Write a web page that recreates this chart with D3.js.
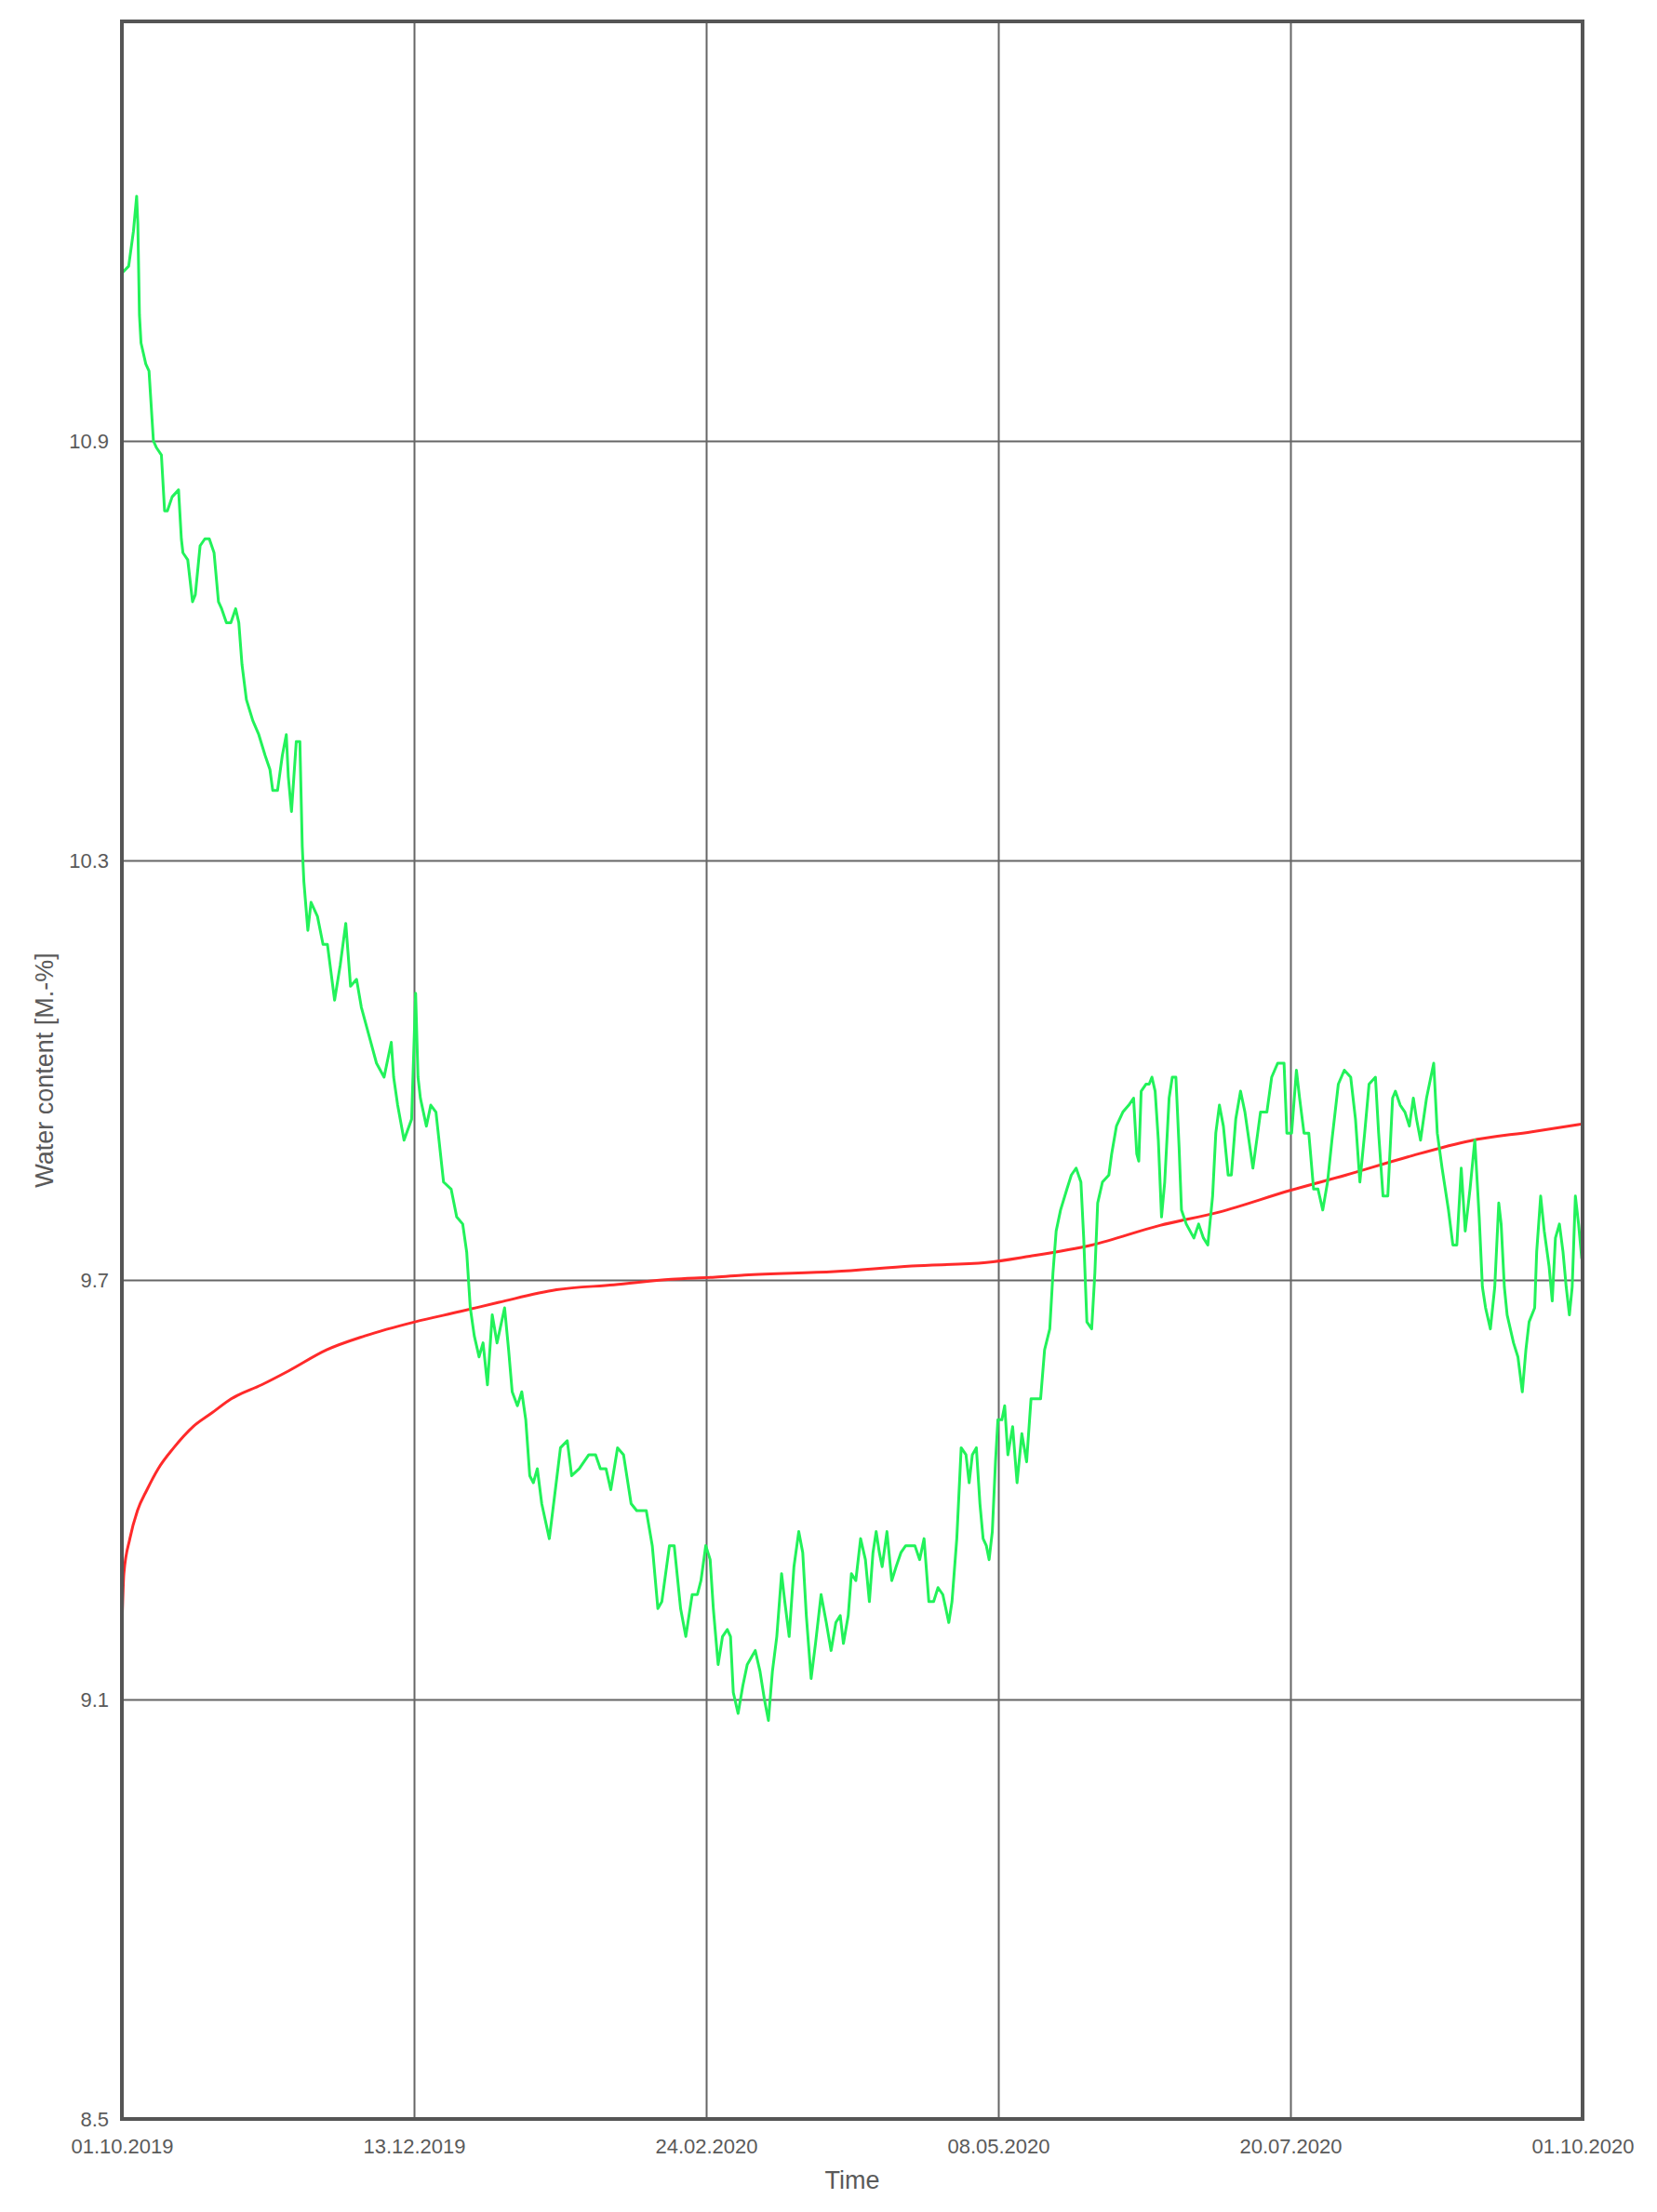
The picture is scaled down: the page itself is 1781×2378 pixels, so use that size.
<!DOCTYPE html>
<html>
<head>
<meta charset="utf-8">
<script src="https://cdn.jsdelivr.net/npm/d3@7"></script>
<style>
  body { margin: 0; background: #fff; }
  svg { display: block; }
</style>
</head>
<body>
<div id="chart"></div>
<script>
// days after 01.10.2019 (UTC) and water content [M.-%]
var greenDays = [0, 1.7, 2.9, 3.7, 4.0, 4.4, 4.8, 6.0, 6.8, 7.9, 8.7, 9.9, 10.7, 11.4, 12.6, 14.2, 14.9, 15.3, 16.5, 17.7,
  18.4, 19.6, 20.8, 21.9, 23.1, 24.2, 25.0, 26.2, 27.3, 28.5, 29.3, 30.1, 31.2, 32.8, 34.3, 35.9, 37.1, 37.8, 39.0, 40.2,
  41.2, 41.7, 42.5, 43.1, 43.7, 44.6, 45.2, 45.6, 46.6, 47.4, 49.0, 50.4, 51.5, 53.3, 54.7, 56.1, 57.3, 58.8, 60.0, 61.9,
  63.8, 65.7, 67.5, 68.1, 69.1, 70.7, 72.6, 73.6, 74.2, 74.8, 76.3, 77.4, 78.7, 80.6, 82.5, 83.9, 85.4, 86.4, 87.3, 88.3,
  89.5, 90.5, 91.6, 92.8, 94.0, 95.9, 96.9, 97.8, 99.1, 100.2, 101.2, 102.2, 103.1, 104.1, 105.2, 107.1, 108.4, 109.9, 111.6, 112.7,
  114.6, 117.0, 118.7, 119.9, 121.3, 122.5, 124.2, 125.7, 127.6, 129.0, 131.4, 132.9, 134.3, 135.3, 137.2, 138.4, 140.0, 141.3, 142.9, 144.2,
  145.1, 146.3, 147.4, 148.2, 149.4, 150.5, 151.7, 152.5, 153.2, 154.4, 155.6, 156.7, 158.7, 159.9, 161.0, 162.0, 163.0, 164.1, 165.3, 166.1,
  167.2, 168.4, 169.6, 170.6, 171.5, 172.7, 173.8, 175.2, 176.5, 177.7, 178.9, 180.0, 180.8, 182.0, 182.8, 183.9, 185.1, 186.3, 187.3, 188.2,
  189.0, 189.8, 190.5, 191.7, 192.9, 194.0, 195.2, 196.4, 198.7, 199.9, 201.0, 202.2, 203.4, 204.5, 205.7, 207.2, 208.0, 209.2, 210.3, 211.5,
  212.3, 213.1, 214.1, 215.0, 215.8, 216.6, 217.3, 218.1, 218.9, 219.5, 220.5, 221.2, 222.0, 223.2, 224.3, 225.5, 226.7, 227.8, 229.0, 230.2,
  231.2, 232.5, 233.3, 234.1, 235.2, 236.8, 237.9, 239.1, 240.3, 241.0, 241.8, 243.0, 243.8, 244.5, 245.7, 247.3, 248.0, 249.2, 250.8, 252.3,
  253.5, 254.3, 254.8, 255.4, 256.6, 257.4, 258.1, 258.9, 259.7, 260.5, 261.3, 262.4, 263.2, 264.1, 264.9, 265.5, 266.7, 268.6, 269.8, 271.0,
  272.1, 273.3, 274.1, 275.0, 276.0, 277.2, 278.0, 279.1, 280.3, 281.4, 283.4, 284.6, 285.3, 286.9, 288.1, 289.6, 291.2, 291.9, 293.1, 294.3,
  295.1, 296.2, 297.4, 298.6, 299.7, 300.9, 302.1, 303.2, 304.8, 306.3, 307.9, 309.1, 310.2, 311.4, 312.5, 314.1, 314.9, 316.0, 317.2, 318.4,
  319.1, 320.3, 321.5, 322.6, 323.6, 324.4, 325.4, 326.9, 328.7, 329.6, 330.8, 332.4, 333.5, 334.5, 335.6, 336.6, 337.8, 339.0, 340.1, 340.9,
  341.7, 342.9, 344.0, 345.0, 345.6, 346.4, 347.1, 348.7, 349.8, 350.9, 351.8, 352.6, 354.0, 354.5, 355.5, 356.4, 357.6, 358.4, 359.2, 360.2,
  361.1, 361.9, 362.7, 363.4, 364.2, 365.0, 365.8];

var greenValues = [11.14, 11.15, 11.20, 11.25, 11.21, 11.08, 11.04, 11.01, 11.00, 10.90, 10.89, 10.88, 10.80, 10.80, 10.82, 10.83, 10.76, 10.74, 10.73, 10.67,
  10.68, 10.75, 10.76, 10.76, 10.74, 10.67, 10.66, 10.64, 10.64, 10.66, 10.64, 10.58, 10.53, 10.50, 10.48, 10.45, 10.43, 10.40, 10.40, 10.45,
  10.48, 10.42, 10.37, 10.42, 10.47, 10.47, 10.32, 10.27, 10.20, 10.24, 10.22, 10.18, 10.18, 10.10, 10.15, 10.21, 10.12, 10.13, 10.09, 10.05,
  10.01, 9.99, 10.04, 9.99, 9.95, 9.90, 9.93, 10.11, 9.99, 9.96, 9.92, 9.95, 9.94, 9.84, 9.83, 9.79, 9.78, 9.74, 9.66, 9.62,
  9.59, 9.61, 9.55, 9.65, 9.61, 9.66, 9.60, 9.54, 9.52, 9.54, 9.50, 9.42, 9.41, 9.43, 9.38, 9.33, 9.39, 9.46, 9.47, 9.42,
  9.43, 9.45, 9.45, 9.43, 9.43, 9.40, 9.46, 9.45, 9.38, 9.37, 9.37, 9.32, 9.23, 9.24, 9.32, 9.32, 9.23, 9.19, 9.25, 9.25,
  9.27, 9.32, 9.30, 9.23, 9.15, 9.19, 9.20, 9.19, 9.11, 9.08, 9.12, 9.15, 9.17, 9.14, 9.10, 9.07, 9.14, 9.19, 9.28, 9.24,
  9.19, 9.29, 9.34, 9.31, 9.22, 9.13, 9.18, 9.25, 9.21, 9.17, 9.21, 9.22, 9.18, 9.22, 9.28, 9.27, 9.33, 9.30, 9.24, 9.31,
  9.34, 9.31, 9.29, 9.34, 9.27, 9.29, 9.31, 9.32, 9.32, 9.30, 9.33, 9.24, 9.24, 9.26, 9.25, 9.21, 9.24, 9.33, 9.46, 9.45,
  9.41, 9.45, 9.46, 9.38, 9.33, 9.32, 9.30, 9.34, 9.44, 9.50, 9.50, 9.52, 9.45, 9.49, 9.41, 9.48, 9.44, 9.53, 9.53, 9.53,
  9.60, 9.63, 9.71, 9.77, 9.80, 9.83, 9.85, 9.86, 9.84, 9.76, 9.64, 9.63, 9.71, 9.81, 9.84, 9.85, 9.88, 9.92, 9.94, 9.95,
  9.96, 9.88, 9.87, 9.97, 9.98, 9.98, 9.99, 9.97, 9.90, 9.79, 9.84, 9.96, 9.99, 9.99, 9.89, 9.80, 9.78, 9.76, 9.78, 9.76,
  9.75, 9.82, 9.91, 9.95, 9.92, 9.85, 9.85, 9.93, 9.97, 9.94, 9.86, 9.91, 9.94, 9.94, 9.99, 10.01, 10.01, 9.91, 9.91, 10.00,
  9.96, 9.91, 9.91, 9.83, 9.83, 9.80, 9.84, 9.90, 9.98, 10.00, 9.99, 9.93, 9.84, 9.91, 9.98, 9.99, 9.91, 9.82, 9.82, 9.96,
  9.97, 9.95, 9.94, 9.92, 9.96, 9.93, 9.90, 9.96, 10.01, 9.91, 9.86, 9.80, 9.75, 9.75, 9.86, 9.77, 9.83, 9.90, 9.79, 9.69,
  9.66, 9.63, 9.69, 9.81, 9.78, 9.69, 9.65, 9.61, 9.59, 9.54, 9.60, 9.64, 9.66, 9.74, 9.82, 9.77, 9.72, 9.67, 9.76, 9.78,
  9.74, 9.69, 9.65, 9.69, 9.82, 9.78, 9.73];

var redDays = [0, 0.5, 2.0, 3.9, 6.3, 9.1, 13.0, 17.8, 22.6, 27.4, 35.0, 41.8, 51.3, 60.9, 73.4, 84.9, 94.5, 108.9, 123.3, 137.7,
  148.7, 156.0, 178.5, 197.9, 216.6, 227.5, 243.0, 260.1, 274.9, 292.7, 306.7, 322.2, 337.8, 353.3, 365.8];

var redValues = [9.20, 9.28, 9.33, 9.37, 9.40, 9.43, 9.46, 9.49, 9.51, 9.53, 9.55, 9.57, 9.60, 9.62, 9.64, 9.655, 9.668, 9.686, 9.693, 9.701,
  9.704, 9.707, 9.712, 9.720, 9.725, 9.734, 9.750, 9.778, 9.797, 9.828, 9.850, 9.876, 9.899, 9.912, 9.923];

var yTicks = [8.5, 9.1, 9.7, 10.3, 10.9];
var xTickDays = [0, 73.2, 146.4, 219.6, 292.8, 366];

var startDate = Date.UTC(2019, 9, 1);
function dayToDate(d) { return new Date(startDate + d * 864e5); }

drawChart();

function drawChart() {
    var W = 1781, H = 2378;
    var margin = {top: 23, right: 80, bottom: 100, left: 131};
    var width = W - margin.left - margin.right;
    var height = H - margin.top - margin.bottom;

    var svg = d3.select("#chart")
      .append("svg")
        .attr("width", W)
        .attr("height", H)
        .style("font-family", "'Liberation Sans', Arial, sans-serif");

    var g = svg.append("g")
        .attr("transform", "translate(" + margin.left + "," + margin.top + ")");

    var x = d3.scaleUtc()
      .domain([dayToDate(0), dayToDate(366)])
      .range([0, width]);

    var y = d3.scaleLinear()
      .domain([8.5, 11.5])
      .range([height, 0]);

    // y grid + labels
    var yAxis = g.append("g")
      .call(d3.axisLeft(y)
        .tickValues(yTicks)
        .tickSize(-width)
        .tickPadding(14)
        .tickFormat(d3.format(".1f")));
    yAxis.select(".domain").remove();
    yAxis.selectAll("line").attr("stroke", "#666").attr("stroke-width", 2);
    yAxis.selectAll("text").attr("fill", "#5a5a5a").style("font-size", "22px");

    // x grid + labels
    var xAxis = g.append("g")
      .attr("transform", "translate(0," + height + ")")
      .call(d3.axisBottom(x)
        .tickValues(xTickDays.map(dayToDate))
        .tickSize(-height)
        .tickPadding(21)
        .tickFormat(function(d) { return d3.utcFormat("%d.%m.%Y")(d3.utcDay.round(d)); }));
    xAxis.select(".domain").remove();
    xAxis.selectAll("line").attr("stroke", "#666").attr("stroke-width", 2);
    xAxis.selectAll("text").attr("fill", "#5a5a5a").style("font-size", "22px");

    g.append("clipPath").attr("id", "plotclip")
      .append("rect").attr("width", width).attr("height", height);

    var line = d3.line()
      .x(function(d) { return x(dayToDate(d[0])); })
      .y(function(d) { return y(d[1]); });

    // red series
    g.append("path")
      .datum(d3.zip(redDays, redValues))
      .attr("clip-path", "url(#plotclip)")
      .attr("fill", "none")
      .attr("stroke", "#ff2a2a")
      .attr("stroke-width", 3)
      .attr("d", line.curve(d3.curveMonotoneX));

    // green series
    g.append("path")
      .datum(d3.zip(greenDays, greenValues))
      .attr("clip-path", "url(#plotclip)")
      .attr("fill", "none")
      .attr("stroke", "#22f25a")
      .attr("stroke-width", 3)
      .attr("stroke-linejoin", "round")
      .attr("d", line.curve(d3.curveLinear));

    // frame
    g.append("rect")
      .attr("width", width)
      .attr("height", height)
      .attr("fill", "none")
      .attr("stroke", "#555")
      .attr("stroke-width", 4);

    // axis titles
    svg.append("text")
      .attr("x", margin.left + width / 2)
      .attr("y", 2353)
      .attr("text-anchor", "middle")
      .attr("fill", "#5a5a5a")
      .style("font-size", "27px")
      .text("Time");

    svg.append("text")
      .attr("transform", "translate(57," + (margin.top + height / 2) + ")rotate(-90)")
      .attr("text-anchor", "middle")
      .attr("fill", "#5a5a5a")
      .style("font-size", "27px")
      .text("Water content [M.-%]");
}
</script>
</body>
</html>
